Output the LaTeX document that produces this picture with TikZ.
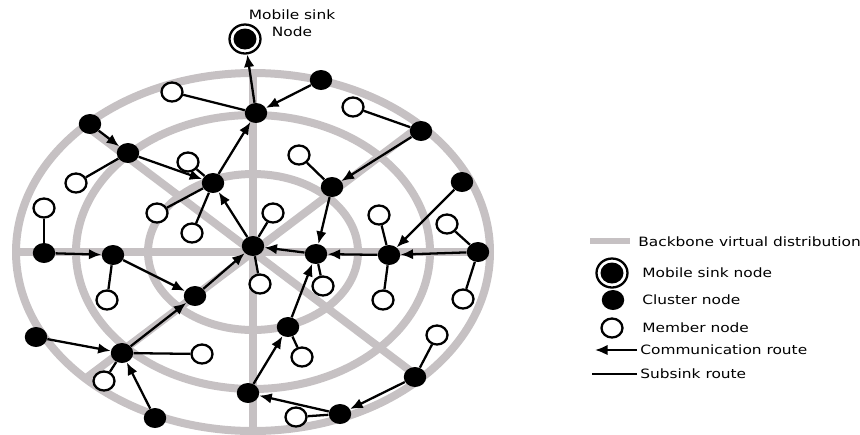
\documentclass[tikz,border=0pt]{standalone}
\usepackage{fontspec}
\newfontfamily\labelfont[FakeStretch=1.2]{DejaVu Sans}
\usetikzlibrary{shapes.geometric,arrows.meta}

\definecolor{backbone}{RGB}{198,193,195}

\tikzset{
	cluster/.style={ellipse, fill=black, minimum width=0.45cm, minimum height=0.40cm, inner sep=0pt},
	member/.style={ellipse, draw, fill=white, line width=1.3pt, minimum width=0.42cm, minimum height=0.38cm, inner sep=0pt},
	sink/.style={ellipse, draw, fill=white, line width=1.3pt, minimum width=0.62cm, minimum height=0.58cm, inner sep=0pt,
		path picture={\fill[black] (path picture bounding box.center) ellipse (0.23cm and 0.21cm);}},
	route/.style={-{Latex[length=2.5mm,width=2.1mm]}, line width=1.3pt},
	subsink/.style={line width=1.3pt},
	ring/.style={draw=backbone, line width=0.16cm},
	legend/.style={font=\labelfont\fontsize{7.3}{9.6}\selectfont, anchor=west, inner sep=0pt},
}

\begin{document}
\begin{tikzpicture}[x=0.02cm, y=-0.02cm]
		\useasboundingbox (0,0) rectangle (860,434);

		% Backbone rings and spokes
		\draw[ring] (253,252) ellipse (237 and 179);
		\draw[ring] (253,252) ellipse (177 and 137);
		\draw[ring] (253,252) ellipse (105 and 78);
		\draw[ring] (16,252) -- (490,252);
		\draw[ring] (253,73) -- (253,431);
		\draw[ring] (85.4,125.4) -- (420.6,378.6);
		\draw[ring] (85.4,378.6) -- (420.6,125.4);

		% Mobile sink
		\node[sink] (sink) at (245,39) {};
		\node[legend, anchor=center, align=center] (sinklabel) at (292,23) {Mobile sink\\Node};

		% Define the cluster nodes
		\node[cluster] (h0) at (253,246) {};
		\node[cluster] (h1) at (256,113) {};
		\node[cluster] (h2) at (321,80) {};
		\node[cluster] (h3) at (90,124) {};
		\node[cluster] (h4) at (128,153) {};
		\node[cluster] (h5) at (213,183) {};
		\node[cluster] (h6) at (421,131) {};
		\node[cluster] (h7) at (332,187) {};
		\node[cluster] (h8) at (462,182) {};
		\node[cluster] (h9) at (316,254) {};
		\node[cluster] (h10) at (389,255) {};
		\node[cluster] (h11) at (478,252) {};
		\node[cluster] (h12) at (44,253) {};
		\node[cluster] (h13) at (113,255) {};
		\node[cluster] (h14) at (195,296) {};
		\node[cluster] (h15) at (36,337) {};
		\node[cluster] (h16) at (122,353) {};
		\node[cluster] (h17) at (155,418) {};
		\node[cluster] (h18) at (288,327) {};
		\node[cluster] (h19) at (415,377) {};
		\node[cluster] (h20) at (248,393) {};
		\node[cluster] (h21) at (340,414) {};

		% Define the member nodes
		\node[member] (m1) at (172,92) {};
		\node[member] (m2) at (76,183) {};
		\node[member] (m3) at (188,162) {};
		\node[member] (m4) at (157,213) {};
		\node[member] (m5) at (192,233) {};
		\node[member] (m6) at (44,208) {};
		\node[member] (m7) at (353,107) {};
		\node[member] (m8) at (299,155) {};
		\node[member] (m9) at (273,213) {};
		\node[member] (m10) at (379,215) {};
		\node[member] (m11) at (447,224) {};
		\node[member] (m12) at (260,284) {};
		\node[member] (m13) at (323,286) {};
		\node[member] (m14) at (383,300) {};
		\node[member] (m15) at (463,299) {};
		\node[member] (m16) at (107,300) {};
		\node[member] (m17) at (202,354) {};
		\node[member] (m18) at (104,381) {};
		\node[member] (m19) at (302,357) {};
		\node[member] (m20) at (437,335) {};
		\node[member] (m21) at (296,417) {};

		% Subsink routes
		\draw[subsink] (m1) -- (h1);
		\draw[subsink] (m2) -- (h4);
		\draw[subsink] (m3) -- (h5);
		\draw[subsink] (m4) -- (h5);
		\draw[subsink] (m5) -- (h5);
		\draw[subsink] (m6) -- (h12);
		\draw[subsink] (m7) -- (h6);
		\draw[subsink] (m8) -- (h7);
		\draw[subsink] (m9) -- (h0);
		\draw[subsink] (m10) -- (h10);
		\draw[subsink] (m11) -- (h11);
		\draw[subsink] (m12) -- (h0);
		\draw[subsink] (m13) -- (h9);
		\draw[subsink] (m14) -- (h10);
		\draw[subsink] (m15) -- (h11);
		\draw[subsink] (m16) -- (h13);
		\draw[subsink] (m17) -- (h16);
		\draw[subsink] (m18) -- (h16);
		\draw[subsink] (m19) -- (h18);
		\draw[subsink] (m20) -- (h19);
		\draw[subsink] (m21) -- (h21);

		% Communication routes towards the sink
		\draw[route] (h1) -- (sink);
		\draw[route] (h2) -- (h1);
		\draw[route] (h3) -- (h4);
		\draw[route] (h4) -- (h5);
		\draw[route] (h5) -- (h1);
		\draw[route] (h0) -- (h5);
		\draw[route] (h6) -- (h7);
		\draw[route] (h7) -- (h9);
		\draw[route] (h8) -- (h10);
		\draw[route] (h11) -- (h10);
		\draw[route] (h10) -- (h9);
		\draw[route] (h9) -- (h0);
		\draw[route] (h12) -- (h13);
		\draw[route] (h13) -- (h14);
		\draw[route] (h14) -- (h0);
		\draw[route] (h15) -- (h16);
		\draw[route] (h16) -- (h14);
		\draw[route] (h17) -- (h16);
		\draw[route] (h18) -- (h9);
		\draw[route] (h20) -- (h18);
		\draw[route] (h21) -- (h20);
		\draw[route] (h19) -- (h21);

		% Legend
		\coordinate (bb1) at (590,241);
		\coordinate (bb2) at (630,241);
		\draw[draw=backbone, line width=0.12cm] (bb1) -- (bb2);
		\node[legend] (lbackbone) at (638,242) {Backbone virtual distribution};
		\node[sink] (lsink) at (612,273) {};
		\node[legend] (lsinktext) at (642,273) {Mobile sink node};
		\node[cluster] (lcluster) at (613,300) {};
		\node[legend] (lclustertext) at (642,300) {Cluster node};
		\node[member] (lmember) at (612,328) {};
		\node[legend] (lmembertext) at (642,328) {Member node};
		\coordinate (lr1) at (637,350);
		\coordinate (lr2) at (595,350);
		\draw[route] (lr1) -- (lr2);
		\node[legend] (lroutetext) at (640,350) {Communication route};
		\coordinate (ls1) at (637,374);
		\coordinate (ls2) at (592,374);
		\draw[subsink] (ls1) -- (ls2);
		\node[legend] (lsubsinktext) at (640,374) {Subsink route};
	\end{tikzpicture}
\end{document}
